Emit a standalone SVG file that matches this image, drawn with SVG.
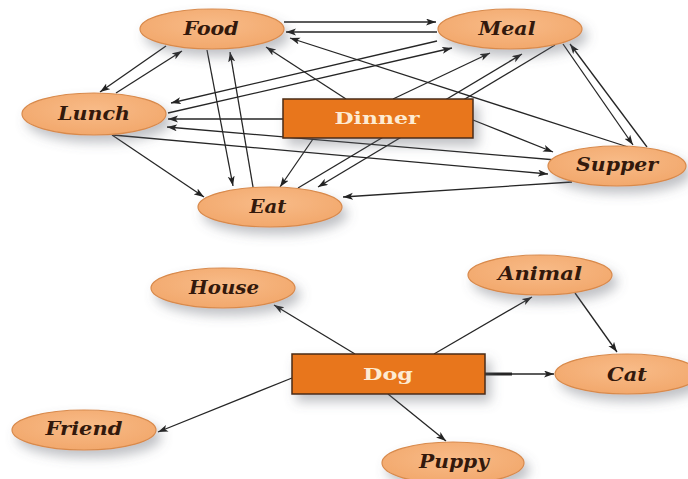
<svg xmlns="http://www.w3.org/2000/svg" width="688" height="479" viewBox="0 0 688 479">
  <defs>
    <filter id="shadow" x="-30%" y="-40%" width="170%" height="200%">
      <feDropShadow dx="5" dy="7" stdDeviation="6" flood-color="#5e6470" flood-opacity="0.4"/>
    </filter>
    <radialGradient id="oval" cx="50%" cy="40%" r="60%">
      <stop offset="0" stop-color="#f8bb88"/>
      <stop offset="1" stop-color="#f2a86c"/>
    </radialGradient>
    <marker id="arr" markerUnits="userSpaceOnUse" markerWidth="11" markerHeight="8" refX="10" refY="3.5" orient="auto">
      <path d="M0,0 L10,3.5 L0,7 L2.5,3.5 z" fill="#222222"/>
    </marker>
  </defs>
  <style>
    .edge { stroke: #262626; stroke-width: 1.3; fill: none; marker-end: url(#arr); }
    .thick { stroke: #262626; stroke-width: 3; fill: none; }
    .oval { fill: url(#oval); stroke: #d88a4c; stroke-width: 1.2; filter: url(#shadow); }
    .box { fill: #e8761f; stroke: #4a2a12; stroke-width: 1.5; filter: url(#shadow); }
    .lbl { font-family: "DejaVu Serif", "Liberation Serif", serif; font-weight: bold; font-style: italic; font-size: 18px; fill: #33190c; text-anchor: middle; }
    .blbl { font-family: "DejaVu Serif", "Liberation Serif", serif; font-weight: bold; font-size: 17px; fill: #fdebd2; text-anchor: middle; }
  </style>
  <rect width="688" height="479" fill="#ffffff"/>

  <g id="connectors">
    <!-- meal-word cluster -->
    <path class="edge" d="M284 22 L436 22"/>
    <path class="edge" d="M437 32 L286 32"/>
    <path class="edge" d="M166 46 L100 92"/>
    <path class="edge" d="M116 93 L182 51"/>
    <path class="edge" d="M207 50 L233 186"/>
    <path class="edge" d="M253 187 L230 52"/>
    <path class="edge" d="M346 99 L266 47"/>
    <path class="edge" d="M628 147 L290 38"/>
    <path class="edge" d="M563 44 L633 145"/>
    <path class="edge" d="M647 147 L570 44"/>
    <path class="edge" d="M437 41 L171 103"/>
    <path class="edge" d="M168 113 L452 48"/>
    <path class="edge" d="M283 119 L168 119"/>
    <path class="edge" d="M556 160 L167 127"/>
    <path class="edge" d="M113 135 L548 174"/>
    <path class="edge" d="M112 135 L204 197"/>
    <path class="edge" d="M313 139 L280 187"/>
    <path class="edge" d="M298 188 L522 54"/>
    <path class="edge" d="M555 45 L318 187"/>
    <path class="edge" d="M393 99 L490 53"/>
    <path class="edge" d="M473 120 L553 152"/>
    <path class="edge" d="M572 182 L343 197"/>
    <!-- dog cluster -->
    <path class="edge" d="M355 354 L274 305"/>
    <path class="edge" d="M434 354 L532 297"/>
    <path class="edge" d="M575 293 L617 352"/>
    <path class="thick" d="M485 374 L512 374"/>
    <path class="edge" d="M485 374 L554 374"/>
    <path class="edge" d="M292 378 L158 432"/>
    <path class="edge" d="M388 394 L446 441"/>
  </g>

  <g id="food">
    <ellipse class="oval" cx="212" cy="29" rx="72" ry="20"/>
    <text class="lbl" x="211" y="35" textLength="55" lengthAdjust="spacingAndGlyphs">Food</text>
  </g>
  <g id="meal">
    <ellipse class="oval" cx="510" cy="29" rx="72" ry="20"/>
    <text class="lbl" x="507" y="35" textLength="57" lengthAdjust="spacingAndGlyphs">Meal</text>
  </g>
  <g id="lunch">
    <ellipse class="oval" cx="94" cy="114" rx="72" ry="21"/>
    <text class="lbl" x="94" y="120" textLength="72" lengthAdjust="spacingAndGlyphs">Lunch</text>
  </g>
  <g id="eat">
    <ellipse class="oval" cx="270" cy="207" rx="72" ry="20"/>
    <text class="lbl" x="268" y="213" textLength="37" lengthAdjust="spacingAndGlyphs">Eat</text>
  </g>
  <g id="supper">
    <ellipse class="oval" cx="617" cy="166" rx="69" ry="20"/>
    <text class="lbl" x="617" y="171" textLength="82" lengthAdjust="spacingAndGlyphs">Supper</text>
  </g>
  <g id="dinner">
    <rect class="box" x="283" y="99" width="190" height="39"/>
    <text class="blbl" x="377" y="124" textLength="85" lengthAdjust="spacingAndGlyphs">Dinner</text>
  </g>

  <g id="house">
    <ellipse class="oval" cx="223" cy="288" rx="72" ry="20"/>
    <text class="lbl" x="224" y="294" textLength="70" lengthAdjust="spacingAndGlyphs">House</text>
  </g>
  <g id="animal">
    <ellipse class="oval" cx="540" cy="275" rx="72" ry="20"/>
    <text class="lbl" x="540" y="280" textLength="84" lengthAdjust="spacingAndGlyphs">Animal</text>
  </g>
  <g id="cat">
    <ellipse class="oval" cx="627" cy="374" rx="72" ry="20"/>
    <text class="lbl" x="627" y="381" textLength="40" lengthAdjust="spacingAndGlyphs">Cat</text>
  </g>
  <g id="friend">
    <ellipse class="oval" cx="84" cy="430" rx="72" ry="20"/>
    <text class="lbl" x="84" y="435" textLength="77" lengthAdjust="spacingAndGlyphs">Friend</text>
  </g>
  <g id="puppy">
    <ellipse class="oval" cx="453" cy="463" rx="71" ry="21"/>
    <text class="lbl" x="454" y="468" textLength="70" lengthAdjust="spacingAndGlyphs">Puppy</text>
  </g>
  <g id="dog">
    <rect class="box" x="292" y="354" width="193" height="40"/>
    <text class="blbl" x="388" y="380" textLength="50" lengthAdjust="spacingAndGlyphs">Dog</text>
  </g>
</svg>
